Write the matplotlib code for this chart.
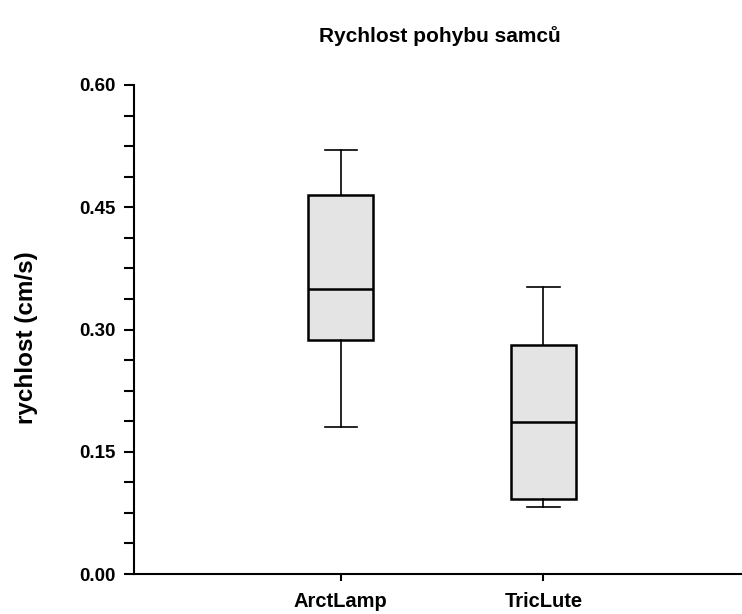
import matplotlib.pyplot as plt
from matplotlib.ticker import MultipleLocator

plt.rcParams['font.family'] = ['Liberation Sans', 'DejaVu Sans']

# box statistics
groups = ['ArctLamp', 'TricLute']
whislo = [0.180, 0.082]
q1 = [0.287, 0.092]
med = [0.350, 0.186]
q3 = [0.465, 0.281]
whishi = [0.520, 0.352]

stats = []
for i, g in enumerate(groups):
    stats.append({'label': g, 'whislo': whislo[i], 'q1': q1[i], 'med': med[i],
                  'q3': q3[i], 'whishi': whishi[i], 'fliers': []})

fig = plt.figure(figsize=(7.42, 6.14), dpi=100)
ax = fig.add_axes([0.1806, 0.0651, 0.8194, 0.7965])

ax.bxp(stats, positions=[1.02, 2.02], widths=0.32, showfliers=False, patch_artist=True,
       boxprops=dict(facecolor='#e4e4e4', edgecolor='black', linewidth=1.8),
       medianprops=dict(color='black', linewidth=1.8),
       whiskerprops=dict(color='black', linewidth=1.2),
       capprops=dict(color='black', linewidth=1.2), capwidths=0.16)

ax.set_xlim(0, 3)
ax.set_ylim(0, 0.60)
ax.yaxis.set_major_locator(MultipleLocator(0.15))
ax.yaxis.set_minor_locator(MultipleLocator(0.0375))
ax.set_yticklabels([f'{v:.2f}' for v in ax.get_yticks()])
ax.spines['top'].set_visible(False)
ax.spines['right'].set_visible(False)
ax.spines['left'].set_linewidth(1.5)
ax.spines['bottom'].set_linewidth(1.5)
ax.tick_params(axis='y', which='major', length=7, width=1.5, labelsize=13.5, pad=6)
ax.tick_params(axis='y', which='minor', length=7, width=1.5)
ax.tick_params(axis='x', length=5, width=1.5, labelsize=14.5, pad=8)
for lbl in ax.get_xticklabels() + ax.get_yticklabels():
    lbl.set_fontweight('bold')

ax.set_ylabel('rychlost (cm/s)', fontsize=17.5, fontweight='bold')
ax.yaxis.set_label_coords(-0.158, 0.484)
fig.text(0.593, 0.942, 'Rychlost pohybu samců', ha='center', va='center',
         fontsize=15, fontweight='bold')

fig.savefig('out.png', dpi=100)
